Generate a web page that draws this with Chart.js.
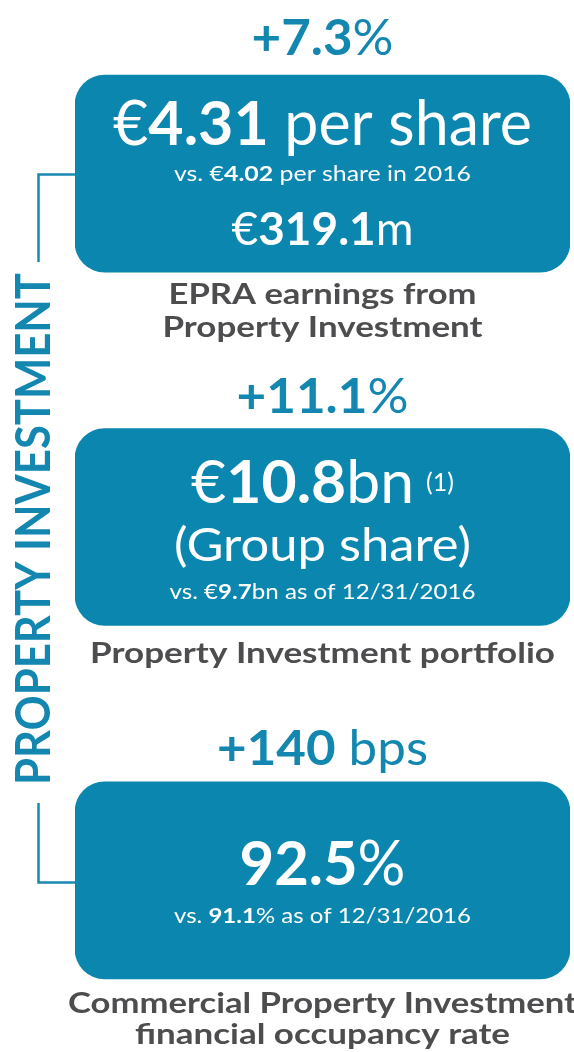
<!DOCTYPE html>
<html>
<head>
<meta charset="utf-8">
<script src="https://cdn.jsdelivr.net/npm/chart.js@4.4.1/dist/chart.umd.min.js"></script>
<style>
  html, body { margin: 0; padding: 0; background: #ffffff; }
  #wrap { width: 574px; height: 1052px; }
</style>
</head>
<body>
<div id="wrap"><canvas id="kpiChart" width="574" height="1052"></canvas></div>
<script>
// ===============================
// DATA  (**text** = bold run)
// ===============================
const rowIndex = [0, 1, 2];
const boxSpan = [[0, 1], [0, 1], [0, 1]];

const headlines = ["**+7.3**%", "**+11.1**%", "**+140** bps"];

const epraLines = ["€**4.31** per share", "vs. €**4.02** per share in 2016", "€**319.1**m"];
const portfolioLines = ["€**10.8**bn", "(Group share)", "vs. €**9.7**bn as of 12/31/2016"];
const occupancyLines = ["**92.5**%", "vs. **91.1**% as of 12/31/2016"];
const footnoteMark = "(1)";

const captions = [
    ["EPRA earnings from", "Property Investment"],
    ["Property Investment portfolio"],
    ["Commercial Property Investment", "financial occupancy rate"]
];

const sideLabel = "PROPERTY INVESTMENT";

// ===============================
// STYLE / LAYOUT
// ===============================
const FONT = "Lato, 'Open Sans', sans-serif";
const BOX_COLOR = "#0b86ae";
const TEAL = "#1387b0";
const GREY = "#4d4d4f";

// dy = baseline offset from box top (lines / head) or box bottom (captions)
const layout = [
    {
        head: { dy: -20, size: 50, w: 142 },
        lines: [
            { dy: 70, size: 62, w: 419 },
            { dy: 106, size: 21, w: 297 },
            { dy: 170, size: 46, w: 182 }
        ],
        caps: [{ dy: 32, w: 308 }, { dy: 65, w: 320 }]
    },
    {
        head: { dy: -16, size: 48, w: 172 },
        lines: [
            { dy: 74, size: 60, w: 223, sup: true },
            { dy: 132, size: 46, w: 297 },
            { dy: 170, size: 21, w: 306 }
        ],
        caps: [{ dy: 37, w: 465 }]
    },
    {
        head: { dy: -17, size: 48, w: 211 },
        lines: [
            { dy: 103, size: 62, w: 166 },
            { dy: 141, size: 21, w: 297 }
        ],
        caps: [{ dy: 34, w: 509 }, { dy: 65, w: 375 }]
    }
];

const boxText = [epraLines, portfolioLines, occupancyLines];

// ===============================
// TEXT HELPERS
// ===============================
function parseRuns(str) {
    return str.split("**").map((t, i) => ({ t: t, bold: i % 2 === 1 })).filter(r => r.t.length);
}

function runsWidth(ctx, runs, size) {
    let w = 0;
    runs.forEach(r => {
        ctx.font = (r.bold ? "bold " : "") + size + "px " + FONT;
        w += ctx.measureText(r.t).width;
    });
    return w;
}

function drawRuns(ctx, str, cx, baseline, size, color, fitW, sup) {
    const runs = parseRuns(str);
    let natural = runsWidth(ctx, runs, size);
    let supSize = Math.round(size * 0.42);
    let supGap = 12;
    let supW = 0;
    if (sup) {
        ctx.font = supSize + "px " + FONT;
        supW = ctx.measureText(footnoteMark).width;
    }
    const sx = fitW ? fitW / natural : 1;
    const total = natural * sx + (sup ? supGap + supW : 0);

    ctx.save();
    ctx.fillStyle = color;
    ctx.textAlign = "left";
    ctx.textBaseline = "alphabetic";
    let x = cx - total / 2;
    ctx.save();
    ctx.translate(x, baseline);
    ctx.scale(sx, 1);
    let px = 0;
    runs.forEach(r => {
        ctx.font = (r.bold ? "bold " : "") + size + "px " + FONT;
        ctx.fillText(r.t, px, 0);
        px += ctx.measureText(r.t).width;
    });
    ctx.restore();
    if (sup) {
        ctx.font = supSize + "px " + FONT;
        ctx.fillText(footnoteMark, x + natural * sx + supGap, baseline - 12);
    }
    ctx.restore();
}

// ===============================
// ANNOTATION PLUGIN
// ===============================
const kpiText = {
    id: "kpiText",
    afterDatasetsDraw(chart) {
        const ctx = chart.ctx;
        const bars = chart.getDatasetMeta(0).data;

        bars.forEach((bar, i) => {
            const L = layout[i];
            const top = bar.y - bar.height / 2;
            const bottom = bar.y + bar.height / 2;
            const cx = (bar.x + bar.base) / 2;

            drawRuns(ctx, headlines[i], cx, top + L.head.dy, L.head.size, TEAL, L.head.w);

            boxText[i].forEach((line, j) => {
                const s = L.lines[j];
                drawRuns(ctx, line, cx, top + s.dy, s.size, "#ffffff", s.w, s.sup);
            });

            captions[i].forEach((line, j) => {
                const c = L.caps[j];
                drawRuns(ctx, "**" + line + "**", cx, bottom + c.dy, 29, GREY, c.w);
            });
        });

        // bracket + vertical label
        const first = bars[0], last = bars[bars.length - 1];
        const lx = 38.5;
        const midY = (first.y + last.y) / 2 + 2;
        const labelLen = 512;

        ctx.save();
        ctx.strokeStyle = "#1a89b2";
        ctx.lineWidth = 2.5;
        ctx.beginPath();
        ctx.moveTo(first.base, first.y + 1);
        ctx.lineTo(lx, first.y + 1);
        ctx.lineTo(lx, midY - labelLen / 2 - 11);
        ctx.moveTo(lx, midY + labelLen / 2 + 18);
        ctx.lineTo(lx, last.y + 2);
        ctx.lineTo(last.base, last.y + 2);
        ctx.stroke();
        ctx.restore();

        ctx.save();
        ctx.translate(50, midY);
        ctx.rotate(-Math.PI / 2);
        ctx.font = "bold 48px " + FONT;
        const nat = ctx.measureText(sideLabel).width;
        ctx.scale(labelLen / nat, 1);
        ctx.fillStyle = TEAL;
        ctx.textAlign = "center";
        ctx.textBaseline = "alphabetic";
        ctx.fillText(sideLabel, 0, 0);
        ctx.restore();
    }
};

// ===============================
// CHART
// ===============================
const ctx = document.getElementById("kpiChart").getContext("2d");

new Chart(ctx, {
    type: "bar",
    data: {
        datasets: [{
            data: rowIndex.map((r, i) => ({ y: r, x: boxSpan[i] })),
            backgroundColor: BOX_COLOR,
            borderWidth: 0,
            borderRadius: 30,
            borderSkipped: false,
            barThickness: 197
        }]
    },
    options: {
        indexAxis: "y",
        responsive: false,
        animation: false,
        layout: { padding: { left: 75, right: 4, top: 4, bottom: 2 } },
        plugins: {
            legend: { display: false },
            tooltip: { enabled: false }
        },
        scales: {
            x: { type: "linear", min: 0, max: 1, display: false, offset: false },
            y: { type: "linear", min: -0.48, max: 2.48, reverse: true, display: false, offset: false }
        }
    },
    plugins: [kpiText]
});
</script>
</body>
</html>
